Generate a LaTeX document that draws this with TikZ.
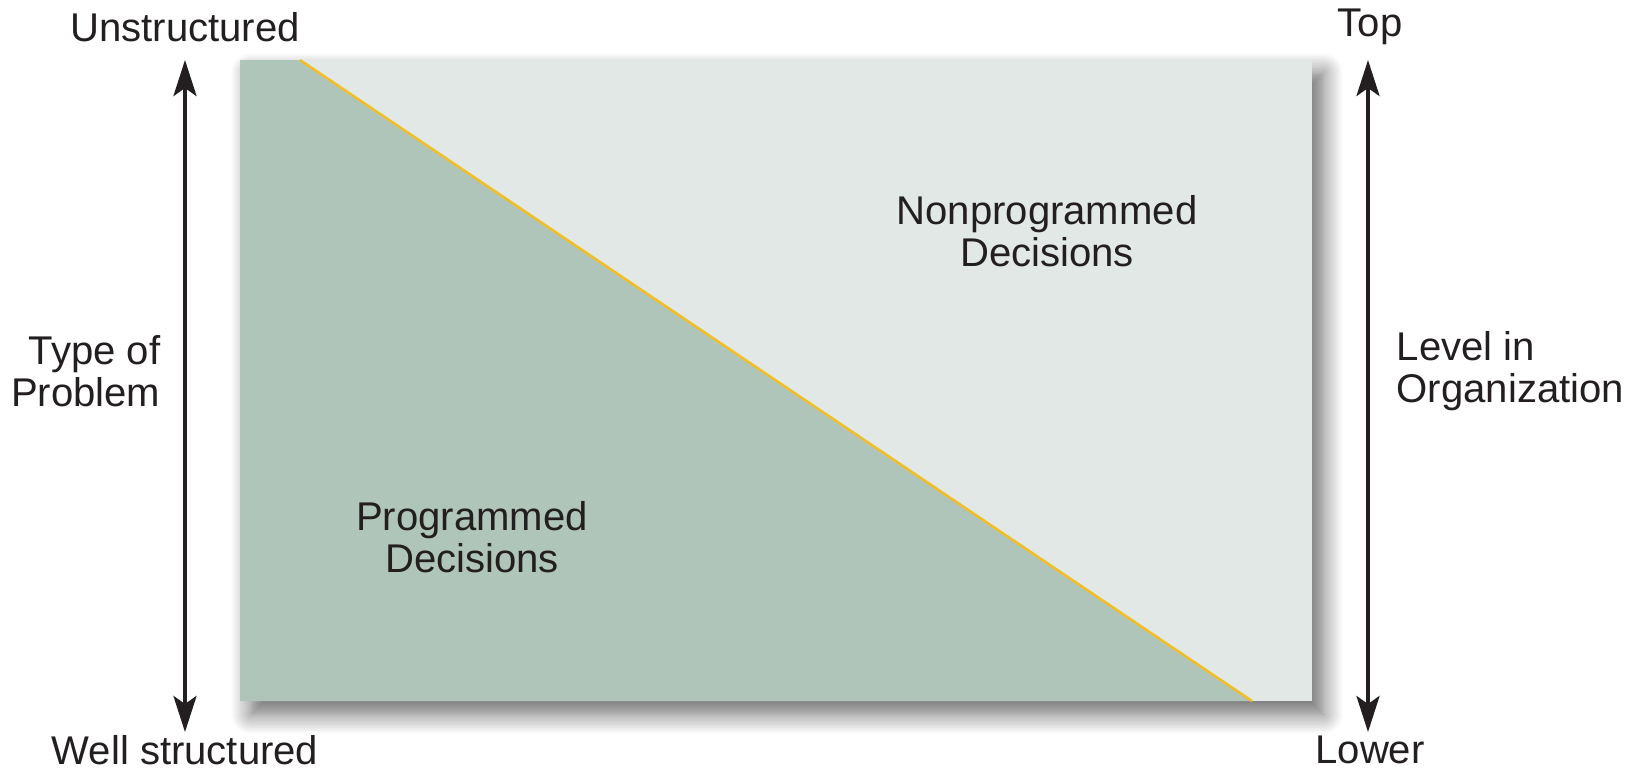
\documentclass[tikz,border=0pt]{standalone}
\usepackage{fontspec}
\setmainfont{Liberation Sans}
\usetikzlibrary{arrows.meta,shadows.blur}
\definecolor{progfill}{HTML}{B0C5B9}
\definecolor{nonprogfill}{HTML}{E1E8E6}
\definecolor{divline}{HTML}{F2BE22}
\definecolor{txt}{HTML}{231F20}
\tikzset{
  lbl/.style={text=txt, font=\fontsize{11.4}{11.8}\selectfont, inner sep=0pt},
  axisarrow/.style={draw=txt, line width=1.1pt, {Stealth[length=3.6mm,width=2.3mm,inset=0.8mm]}-{Stealth[length=3.6mm,width=2.3mm,inset=0.8mm]}}
}
\begin{document}
\begin{tikzpicture}[x=0.01cm,y=-0.01cm]
\useasboundingbox (0,0) rectangle (1633,769);
% box with shadow
\fill[nonprogfill, blur shadow={shadow xshift=0.11cm, shadow yshift=-0.13cm, shadow blur radius=0.2cm, shadow blur steps=14, shadow opacity=60}] (240,60) rectangle (1312,701);
\coordinate (dtop) at (300,60);
\coordinate (dbot) at (1252,701);
\fill[progfill] (240,60) -- (dtop) -- (dbot) -- (240,701) -- cycle;
\draw[divline, line width=0.7pt] (dtop) -- (dbot);
% arrows
\coordinate (la) at (185,60);
\coordinate (lb) at (185,732);
\coordinate (ra) at (1368,60);
\coordinate (rb) at (1368,732);
\draw[axisarrow] (la) -- (lb);
\draw[axisarrow] (ra) -- (rb);
% labels
\node[lbl] (unstr) at (185,27) {Unstructured};
\node[lbl] (wellstr) at (185,750) {Well structured};
\node[lbl] (top) at (1370,27) {Top};
\node[lbl] (lower) at (1370,750) {Lower};
\node[lbl, align=right, anchor=east] (typ) at (161,371) {Type of\\Problem};
\node[lbl, align=left, anchor=west] (lvl) at (1396,371) {Level in\\Organization};
\node[lbl, align=center] (nonprog) at (1047,231) {Nonprogrammed\\Decisions};
\node[lbl, align=center] (prog) at (472,537) {Programmed\\Decisions};
\end{tikzpicture}
\end{document}
